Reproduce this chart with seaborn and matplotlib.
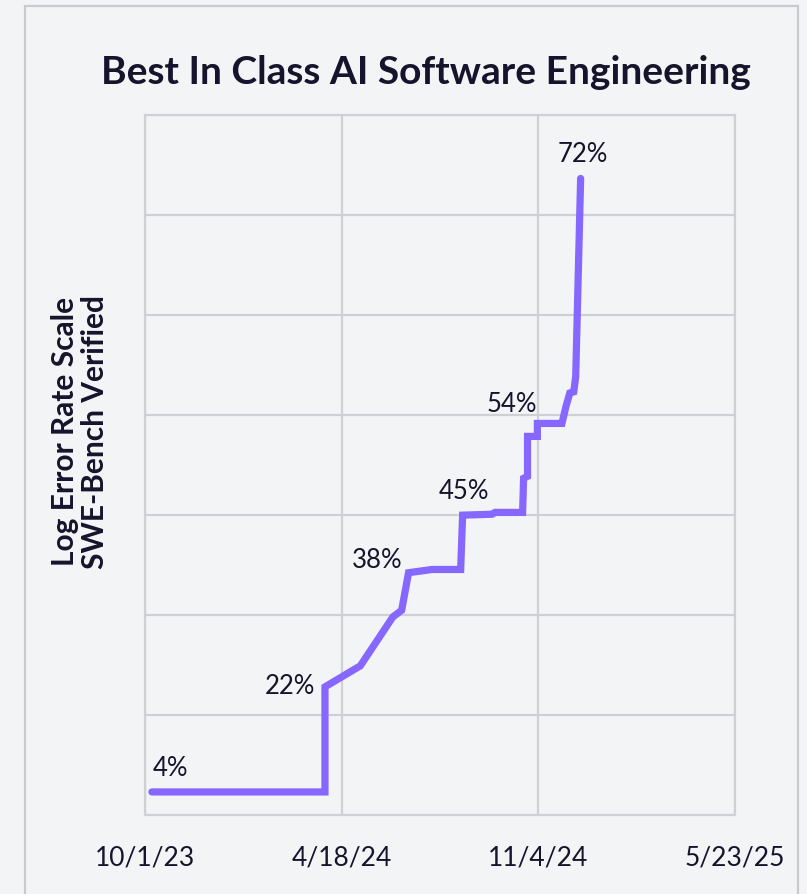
import numpy as np
import pandas as pd
import matplotlib
matplotlib.use("Agg")
import matplotlib.pyplot as plt
import matplotlib.dates as mdates
from matplotlib.patches import Rectangle
import seaborn as sns

# Best-in-class SWE-Bench Verified score over time
dates = [
    "2023-10-08", "2024-04-01", "2024-04-01", "2024-05-07", "2024-06-09",
    "2024-06-14", "2024-06-18", "2024-06-25", "2024-07-19", "2024-08-17",
    "2024-08-19", "2024-09-18", "2024-09-21", "2024-10-19", "2024-10-20",
    "2024-10-24", "2024-10-24", "2024-11-03", "2024-11-03", "2024-11-28",
    "2024-12-02", "2024-12-06", "2024-12-10", "2024-12-12", "2024-12-17",
]
scores = [
    4.5, 4.5, 22.6, 25.8, 32.7,
    33.2, 33.6, 38.4, 38.8, 38.8,
    45.1, 45.2, 45.4, 45.4, 49.0,
    49.2, 53.1, 53.1, 54.3, 54.3,
    55.8, 57.0, 57.1, 58.4, 72.0,
]

# labelled points: (index into the series, text)
label_idx = [0, 2, 7, 10, 18, 24]
label_text = ["4%", "22%", "38%", "45%", "54%", "72%"]

tick_dates = ["2023-10-01", "2024-04-18", "2024-11-04", "2025-05-23"]
tick_labels = ["10/1/23", "4/18/24", "11/4/24", "5/23/25"]

BG = "#f3f4f6"
GRID = "#cfd0d5"
INK = "#15142c"
PURPLE = "#8667ff"

df = pd.DataFrame({"date": pd.to_datetime(dates), "score": scores})
# log error-rate scale: -ln(1 - score)
df["log_err"] = -np.log(1 - df["score"] / 100)

sns.set_theme(style="whitegrid")
plt.rcParams["font.family"] = ["Lato", "DejaVu Sans"]

fig = plt.figure(figsize=(8.07, 8.94), dpi=100, facecolor=BG)
ax = fig.add_axes([0.1797, 0.0884, 0.7311, 0.783])
ax.set_facecolor(BG)

# outer card border
fig.patches.append(Rectangle((25 / 807, -0.05), 773 / 807, 1 - 6 / 894 + 0.05,
                             transform=fig.transFigure, fill=False,
                             edgecolor="#c9cad0", linewidth=1.6))

sns.lineplot(data=df, x="date", y="log_err", ax=ax, color=PURPLE,
             linewidth=5.2, sort=False, estimator=None)
for line in ax.lines:
    line.set_solid_capstyle("round")
    line.set_solid_joinstyle("miter")

ax.set_ylim(0, 1.4)
ax.set_yticks(np.arange(0, 1.41, 0.2))
ax.set_yticklabels([])
ax.set_xlim(pd.Timestamp(tick_dates[0]), pd.Timestamp(tick_dates[-1]))
ax.set_xticks(pd.to_datetime(tick_dates))
ax.set_xticklabels(tick_labels)
ax.tick_params(axis="x", labelsize=19, colors=INK, pad=22, length=0)
ax.tick_params(axis="y", length=0)
ax.grid(True, color=GRID, linewidth=1.6)
for s in ax.spines.values():
    s.set_color(GRID)
    s.set_linewidth(1.6)
ax.set_xlabel("")
ax.set_ylabel("")

offsets = [(1, 23, "left"), (-10, 0, "right"), (-6, 12, "right"),
           (1, 24, "center"), (0, 19, "right"), (2, 24, "center")]
for i, txt, (dx, dy, ha) in zip(label_idx, label_text, offsets):
    ax.annotate(txt, (mdates.date2num(df["date"][i]), df["log_err"][i]),
                xytext=(dx, dy), textcoords="offset pixels",
                ha=ha, va="center", fontsize=18.5, color=INK)

fig.text(0.528, 0.919, "Best In Class AI Software Engineering",
         ha="center", va="center", fontsize=28, fontweight="bold", color=INK)
fig.text(0.099, 0.517, "Log Error Rate Scale\nSWE-Bench Verified",
         ha="center", va="center", rotation=90, fontsize=21.5,
         fontweight="bold", color=INK, linespacing=1.1)

fig.savefig("out.png", dpi=100, facecolor=BG)
